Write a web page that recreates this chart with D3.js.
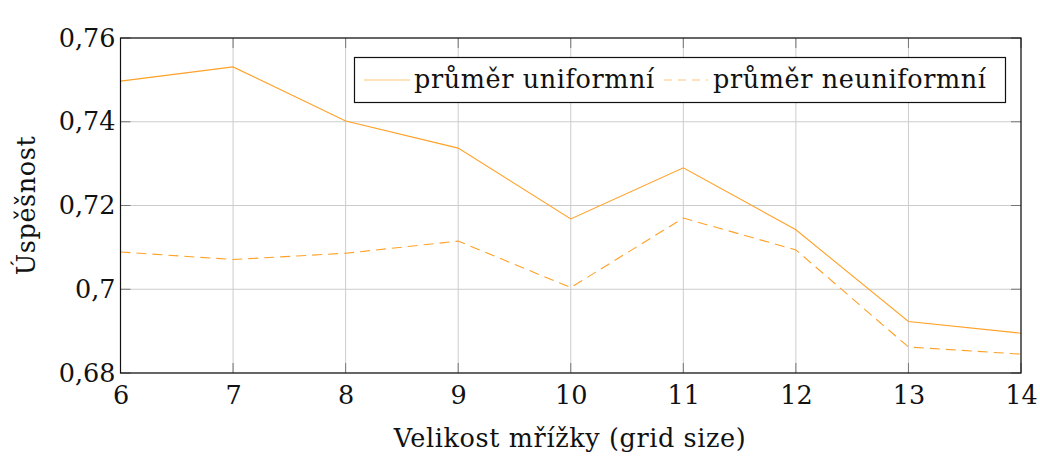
<!DOCTYPE html>
<html>
<head>
<meta charset="utf-8">
<script src="https://cdn.jsdelivr.net/npm/d3@7"></script>
<style>
  html, body { margin: 0; padding: 0; background: #fff; }
  svg { display: block; }
  text { font-family: "DejaVu Serif", "Liberation Serif", serif; fill: #111; }
</style>
</head>
<body>
<svg id="chart" width="1040" height="456"></svg>
<script>
// Grid sizes on the x axis
const gridSizes = [6, 7, 8, 9, 10, 11, 12, 13, 14];
// Mean success rate, uniform grid
const uniformMean = [0.7497, 0.7531, 0.7402, 0.7337, 0.7168, 0.7290, 0.7142, 0.6923, 0.6895];
// Mean success rate, non-uniform grid
const nonUniformMean = [0.7089, 0.7071, 0.7086, 0.7115, 0.7004, 0.7170, 0.7094, 0.6862, 0.6845];
// Tick values and labels
const yTicks = [0.68, 0.70, 0.72, 0.74, 0.76];
const yTickLabels = ["0,68", "0,7", "0,72", "0,74", "0,76"];
const seriesNames = ["průměr uniformní", "průměr neuniformní"];

const svg = d3.select("#chart");
const margin = { left: 120.5, right: 1021, top: 38, bottom: 373 };
const lineColor = "#ffa126";
const fontSize = 25.5;
const spacing = 0.6;

const x = d3.scaleLinear().domain([6, 14]).range([margin.left, margin.right]);
const y = d3.scaleLinear().domain([0.68, 0.76]).range([margin.bottom, margin.top]);

// Grid lines
const grid = svg.append("g");
grid.selectAll(".vg").data(gridSizes).join("line")
  .attr("x1", d => x(d)).attr("x2", d => x(d))
  .attr("y1", margin.top).attr("y2", margin.bottom)
  .attr("stroke", "#cccccc").attr("stroke-width", 1);
grid.selectAll(".hg").data(yTicks).join("line")
  .attr("x1", margin.left).attr("x2", margin.right)
  .attr("y1", d => y(d)).attr("y2", d => y(d))
  .attr("stroke", "#cccccc").attr("stroke-width", 1);

// Inward tick marks on all four sides
const tickLen = 10;
const ticks = svg.append("g").attr("stroke", "#777").attr("stroke-width", 1);
gridSizes.forEach(d => {
  ticks.append("line").attr("x1", x(d)).attr("x2", x(d)).attr("y1", margin.bottom).attr("y2", margin.bottom - tickLen);
  ticks.append("line").attr("x1", x(d)).attr("x2", x(d)).attr("y1", margin.top).attr("y2", margin.top + tickLen);
});
yTicks.forEach(d => {
  ticks.append("line").attr("x1", margin.left).attr("x2", margin.left + tickLen).attr("y1", y(d)).attr("y2", y(d));
  ticks.append("line").attr("x1", margin.right).attr("x2", margin.right - tickLen).attr("y1", y(d)).attr("y2", y(d));
});

// Series lines
const line = d3.line().x((d, i) => x(gridSizes[i])).y(d => y(d));
svg.append("path").datum(uniformMean)
  .attr("d", line).attr("fill", "none")
  .attr("stroke", lineColor).attr("stroke-width", 1.1);
svg.append("path").datum(nonUniformMean)
  .attr("d", line).attr("fill", "none")
  .attr("stroke", lineColor).attr("stroke-width", 1.1)
  .attr("stroke-dasharray", "10,6");

// Frame
svg.append("rect")
  .attr("x", margin.left).attr("y", margin.top)
  .attr("width", margin.right - margin.left).attr("height", margin.bottom - margin.top)
  .attr("fill", "none").attr("stroke", "#111").attr("stroke-width", 1.2);

// Axes labels
const xAxis = d3.axisBottom(x).tickValues(gridSizes).tickFormat(d3.format("d")).tickSize(0).tickPadding(13);
const xg = svg.append("g").attr("transform", `translate(0,${margin.bottom})`).call(xAxis);
xg.select(".domain").remove();
xg.selectAll("text").attr("font-size", fontSize).attr("font-family", "DejaVu Serif, serif").attr("fill", "#111");

const yAxis = d3.axisLeft(y).tickValues(yTicks).tickFormat((d, i) => yTickLabels[i]).tickSize(0).tickPadding(5);
const yg = svg.append("g").attr("transform", `translate(${margin.left},0)`).call(yAxis);
yg.select(".domain").remove();
yg.selectAll("text").attr("font-size", fontSize).attr("font-family", "DejaVu Serif, serif").attr("fill", "#111");

svg.append("text")
  .attr("x", 570).attr("y", 447)
  .attr("text-anchor", "middle").attr("font-size", fontSize).attr("letter-spacing", spacing)
  .text("Velikost mřížky (grid size)");

svg.append("text")
  .attr("transform", `translate(35,${(margin.top + margin.bottom) / 2}) rotate(-90)`)
  .attr("text-anchor", "middle").attr("font-size", fontSize).attr("letter-spacing", spacing)
  .text("Úspěšnost");

// Legend
const lg = svg.append("g");
lg.append("rect").attr("x", 354.5).attr("y", 57.5).attr("width", 651).attr("height", 45)
  .attr("fill", "#fff").attr("stroke", "#111").attr("stroke-width", 1.2);
const ly = 80;
lg.append("line").attr("x1", 364).attr("x2", 410).attr("y1", ly).attr("y2", ly)
  .attr("stroke", "#ffc878").attr("stroke-width", 1.2);
lg.append("text").attr("x", 414).attr("y", ly + 8).attr("font-size", fontSize).attr("letter-spacing", spacing).text(seriesNames[0]);
lg.append("line").attr("x1", 664).attr("x2", 708).attr("y1", ly).attr("y2", ly)
  .attr("stroke", "#ffc878").attr("stroke-width", 1.2).attr("stroke-dasharray", "8,6");
lg.append("text").attr("x", 713).attr("y", ly + 8).attr("font-size", fontSize).attr("letter-spacing", spacing).text(seriesNames[1]);
</script>
</body>
</html>
